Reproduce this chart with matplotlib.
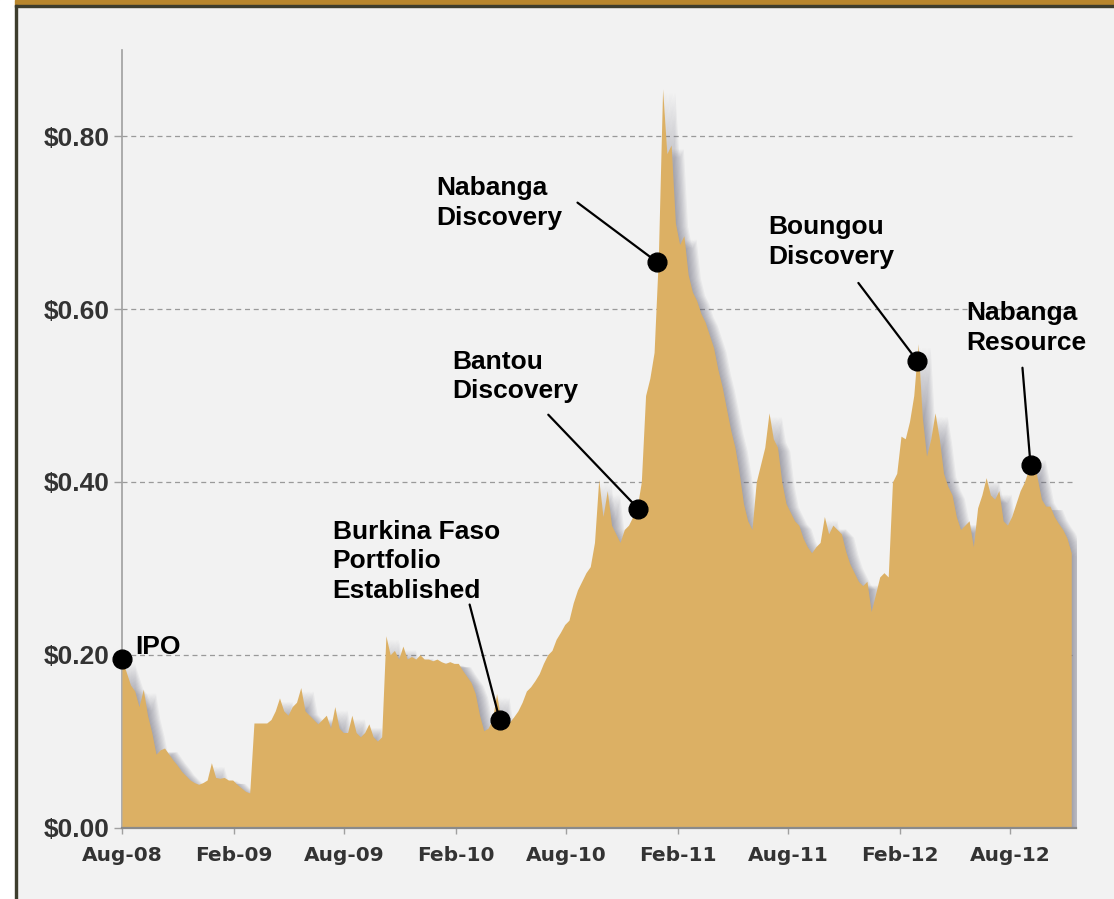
import matplotlib
matplotlib.use("Agg")
import matplotlib.pyplot as plt
import matplotlib.dates as mdates
from matplotlib.patches import Rectangle
from matplotlib.ticker import FuncFormatter
import numpy as np
import pandas as pd

# weekly share price (A$), starting at the IPO
start_date = "2008-08-01"
price = [
    0.195, 0.18, 0.165, 0.158, 0.14, 0.16, 0.13, 0.11, 0.085, 0.09,
    0.092, 0.085, 0.078, 0.072, 0.065, 0.06, 0.055, 0.052, 0.05, 0.052,
    0.055, 0.075, 0.058, 0.057, 0.058, 0.055, 0.055, 0.05, 0.046, 0.042,
    0.04, 0.121, 0.121, 0.121, 0.121, 0.125, 0.135, 0.15, 0.135, 0.13,
    0.14, 0.145, 0.162, 0.135, 0.13, 0.125, 0.12, 0.125, 0.13, 0.115,
    0.14, 0.115, 0.11, 0.11, 0.13, 0.11, 0.105, 0.11, 0.12, 0.105,
    0.10, 0.105, 0.222, 0.20, 0.205, 0.195, 0.21, 0.195, 0.198, 0.195,
    0.20, 0.195, 0.195, 0.193, 0.195, 0.192, 0.19, 0.192, 0.19, 0.19,
    0.182, 0.175, 0.168, 0.155, 0.13, 0.112, 0.115, 0.125, 0.155, 0.125,
    0.12, 0.122, 0.128, 0.135, 0.145, 0.158, 0.163, 0.17, 0.178, 0.19,
    0.20, 0.205, 0.218, 0.226, 0.235, 0.24, 0.26, 0.275, 0.285, 0.295,
    0.302, 0.33, 0.403, 0.36, 0.39, 0.35, 0.34, 0.33, 0.345, 0.35,
    0.36, 0.37, 0.40, 0.50, 0.52, 0.55, 0.66, 0.855, 0.78, 0.79,
    0.70, 0.675, 0.685, 0.64, 0.62, 0.61, 0.595, 0.585, 0.57, 0.555,
    0.53, 0.51, 0.485, 0.46, 0.44, 0.41, 0.375, 0.355, 0.345, 0.40,
    0.42, 0.44, 0.48, 0.45, 0.44, 0.40, 0.375, 0.365, 0.355, 0.35,
    0.335, 0.325, 0.318, 0.325, 0.33, 0.36, 0.34, 0.35, 0.345, 0.34,
    0.32, 0.305, 0.295, 0.285, 0.28, 0.285, 0.25, 0.27, 0.29, 0.295,
    0.29, 0.40, 0.41, 0.453, 0.45, 0.47, 0.50, 0.56, 0.475, 0.43,
    0.45, 0.48, 0.45, 0.41, 0.395, 0.385, 0.36, 0.345, 0.35, 0.355,
    0.325, 0.37, 0.385, 0.405, 0.385, 0.38, 0.39, 0.355, 0.35, 0.36,
    0.375, 0.39, 0.40, 0.415, 0.43, 0.405, 0.38, 0.372, 0.372, 0.36,
    0.352, 0.345, 0.335, 0.318,
]

# events marked on the chart
event_labels = ["IPO", "Burkina Faso\nPortfolio\nEstablished", "Bantou\nDiscovery",
                "Nabanga\nDiscovery", "Boungou\nDiscovery", "Nabanga\nResource"]
event_dates = ["2008-08-01", "2010-04-14", "2010-11-28", "2010-12-28",
               "2012-03-01", "2012-09-03"]
event_values = [0.195, 0.125, 0.369, 0.655, 0.54, 0.42]

y_ticks = [0.0, 0.2, 0.4, 0.6, 0.8]
x_tick_dates = ["2008-08-01", "2009-02-01", "2009-08-01", "2010-02-01", "2010-08-01",
                "2011-02-01", "2011-08-01", "2012-02-01", "2012-08-01"]

# layout: (line start offset, label offset) in points from each dot
line_offsets = [None, (-21.6, 82.8), (-64.8, 67.7), (-56.9, 42.5), (-42.5, 56.2), (-5.8, 69.8)]
label_offsets = [(9.4, 17.5), (-120.2, 144), (-133.9, 114.5), (-158.4, 61.5),
                 (-107.3, 105), (-46.1, 117.5)]

bg = "#f2f2f2"
fill_col = "#dcb064"

plt.rcParams["font.family"] = ["Liberation Sans", "DejaVu Sans"]

dates = pd.date_range(start_date, periods=len(price), freq="7D")
price = np.array(price)

fig = plt.figure(figsize=(11.14, 8.99), dpi=100, facecolor=bg)
ax = fig.add_axes([0.1095, 0.0795, 0.8565, 0.8649])
ax.set_facecolor(bg)

# frame around the chart
fig.patches.append(Rectangle((0, 0), 15 / 1114, 1, transform=fig.transFigure,
                             color="white", zorder=0))
fig.patches.append(Rectangle((15 / 1114, 1 - 5 / 899), 1, 5 / 899, transform=fig.transFigure,
                             color="#b8862d", zorder=1))
fig.patches.append(Rectangle((15 / 1114, 1 - 7 / 899), 1, 2 / 899, transform=fig.transFigure,
                             color="#3d3d2d", zorder=1))
fig.patches.append(Rectangle((15 / 1114, 0), 2 / 1114, 1 - 5 / 899, transform=fig.transFigure,
                             color="#3d3d2d", zorder=1))

# grid
for v in y_ticks[1:]:
    ax.axhline(v, color="#9a9a9a", lw=0.9, ls=(0, (4, 3)), zorder=1)

# soft shadow to the right of the area
for shift in range(2, 21, 2):
    ax.fill_between(dates + pd.Timedelta(days=shift), price - 0.004, 0, color="#5c5c70",
                    alpha=0.065, lw=0, zorder=2)

ax.fill_between(dates, price, 0, color=fill_col, lw=0, zorder=3)

# events
for i, lab in enumerate(event_labels):
    d = pd.Timestamp(event_dates[i])
    v = event_values[i]
    if line_offsets[i] is not None:
        ax.annotate("", xy=(d, v), xytext=line_offsets[i], textcoords="offset points",
                    arrowprops=dict(arrowstyle="-", color="black", lw=1.6,
                                    shrinkA=0, shrinkB=0), zorder=5)
    ax.annotate(lab, xy=(d, v), xytext=label_offsets[i], textcoords="offset points",
                ha="left", va="top", fontsize=19, fontweight="bold", color="black",
                linespacing=1.3, zorder=6)
    ax.plot(d, v, "o", color="black", ms=13.5, zorder=7, clip_on=False)

ax.set_ylim(0, 0.9)
ax.set_xlim(pd.Timestamp(start_date), pd.Timestamp(start_date) + pd.Timedelta(days=1569))
ax.set_yticks(y_ticks)
ax.yaxis.set_major_formatter(FuncFormatter(lambda v, p: "${:.2f}".format(v)))
ax.set_xticks([pd.Timestamp(d) for d in x_tick_dates])
ax.xaxis.set_major_formatter(mdates.DateFormatter("%b-%y"))

for s in ["top", "right"]:
    ax.spines[s].set_visible(False)
ax.spines["left"].set_color("#a0a0a0")
ax.spines["bottom"].set_color("#8a8a8a")
ax.spines["left"].set_linewidth(1.2)
ax.spines["bottom"].set_linewidth(1.6)
ax.spines["bottom"].set_zorder(8)

ax.tick_params(axis="y", length=6, width=1, color="#a0a0a0", pad=3,
               labelsize=19, labelcolor="#333333")
ax.tick_params(axis="x", length=4, width=1, color="#a0a0a0", pad=9,
               labelsize=14.5, labelcolor="#333333")
for t in ax.get_yticklabels():
    t.set_fontweight("bold")
for t in ax.get_xticklabels():
    t.set_fontweight("bold")
    t.set_family("DejaVu Sans")

fig.savefig("out.png", dpi=100, facecolor=bg)
